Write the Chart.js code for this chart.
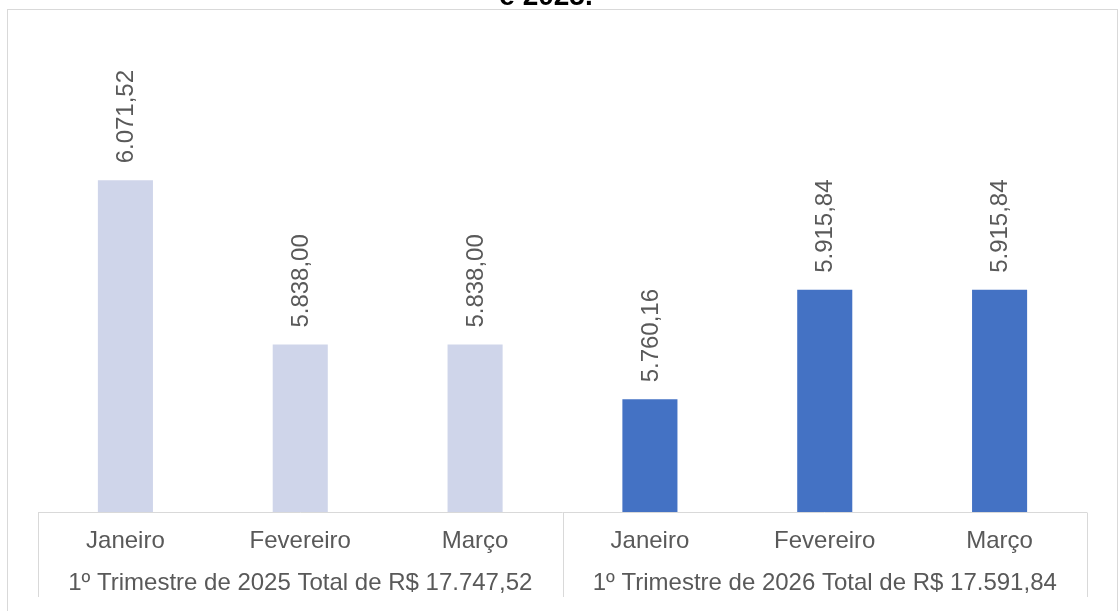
<!DOCTYPE html>
<html lang="pt-BR">
<head>
<meta charset="utf-8">
<title>1º Trimestre 2025 e 2026</title>
<script src="https://cdn.jsdelivr.net/npm/chart.js@4.4.1/dist/chart.umd.min.js"></script>
<style>
  html, body { margin: 0; padding: 0; background: #ffffff; overflow: hidden; }
  #wrap { position: relative; width: 1119px; height: 611px; }
</style>
</head>
<body>
<div id="wrap"><canvas id="chart" width="1119" height="611"></canvas></div>
<script>
const months = ["Janeiro", "Fevereiro", "Março", "Janeiro", "Fevereiro", "Março"];
const values2025 = [6071.52, 5838.0, 5838.0, null, null, null];
const values2026 = [null, null, null, 5760.16, 5915.84, 5915.84];
const groupLabels = [
  "1º Trimestre de 2025 Total de R$ 17.747,52",
  "1º Trimestre de 2026 Total de R$ 17.591,84",
];
const groupSizes = [3, 3];
const titleTail = "e 2025.";
const yMin = 5600;
const yMax = 6200;

const FONT = "'Liberation Sans', Arial, sans-serif";
const TEXT_GREY = "#595959";
const LINE_GREY = "#d9d9d9";

function formatBR(value) {
  const [intPart, dec] = value.toFixed(2).split(".");
  return `${intPart.replace(/\B(?=(\d{3})+(?!\d))/g, ".")},${dec}`;
}

// moldura, título cortado, caixa do eixo e rótulos de grupo
const decorations = {
  id: "decorations",
  beforeDraw(chart) {
    const { ctx } = chart;
    ctx.save();
    ctx.strokeStyle = LINE_GREY;
    ctx.lineWidth = 1;
    ctx.strokeRect(7.5, 9.5, 1110, 700);
    ctx.fillStyle = "#000000";
    ctx.font = `bold 28px ${FONT}`;
    ctx.textAlign = "center";
    ctx.textBaseline = "alphabetic";
    ctx.fillText(titleTail, 546, 5);
    ctx.restore();
  },
  afterDraw(chart) {
    const { ctx, chartArea } = chart;
    const x = chart.scales.x;
    const top = Math.round(chartArea.bottom) + 0.5;
    const bottom = 597;
    ctx.save();
    ctx.strokeStyle = LINE_GREY;
    ctx.lineWidth = 1;
    ctx.beginPath();
    ctx.moveTo(chartArea.left, top);
    ctx.lineTo(chartArea.right, top);
    let start = 0;
    const edges = [chartArea.left];
    groupSizes.forEach((size) => {
      const end = start + size - 1;
      const next = end + 1 < months.length
        ? (x.getPixelForValue(end) + x.getPixelForValue(end + 1)) / 2
        : chartArea.right;
      edges.push(next);
      start += size;
    });
    edges.forEach((px) => {
      const xx = Math.round(px) + 0.5;
      ctx.moveTo(xx, top);
      ctx.lineTo(xx, bottom);
    });
    ctx.stroke();

    ctx.fillStyle = TEXT_GREY;
    ctx.font = `24px ${FONT}`;
    ctx.textAlign = "center";
    ctx.textBaseline = "middle";
    groupLabels.forEach((label, i) => {
      ctx.fillText(label, (edges[i] + edges[i + 1]) / 2, 583);
    });
    ctx.restore();
  },
  afterDatasetsDraw(chart) {
    const { ctx } = chart;
    ctx.save();
    ctx.fillStyle = TEXT_GREY;
    ctx.font = `24px ${FONT}`;
    ctx.textAlign = "left";
    ctx.textBaseline = "middle";
    chart.data.datasets.forEach((ds, di) => {
      chart.getDatasetMeta(di).data.forEach((bar, i) => {
        const v = ds.data[i];
        if (v === null || v === undefined) return;
        ctx.save();
        ctx.translate(bar.x + 1, bar.y - 17);
        ctx.rotate(-Math.PI / 2);
        ctx.fillText(formatBR(v), 0, 0);
        ctx.restore();
      });
    });
    ctx.restore();
  },
};

new Chart(document.getElementById("chart"), {
  type: "bar",
  data: {
    labels: months,
    datasets: [
      { label: "2025", data: values2025, backgroundColor: "#cfd5ea", grouped: false },
      { label: "2026", data: values2026, backgroundColor: "#4472c4", grouped: false },
    ],
  },
  options: {
    responsive: false,
    animation: false,
    events: [],
    categoryPercentage: 1,
    barPercentage: 0.315,
    layout: { padding: { left: 38, right: 32, top: 90, bottom: 0 } },
    plugins: {
      legend: { display: false },
      tooltip: { enabled: false },
    },
    scales: {
      x: {
        grid: { display: false },
        border: { display: false },
        ticks: {
          color: TEXT_GREY,
          font: { family: FONT, size: 24 },
          padding: 7,
          maxRotation: 0,
          autoSkip: false,
        },
        afterFit(scale) {
          scale.height = 99;
        },
      },
      y: {
        display: false,
        min: yMin,
        max: yMax,
      },
    },
  },
  plugins: [decorations],
});
</script>
</body>
</html>
